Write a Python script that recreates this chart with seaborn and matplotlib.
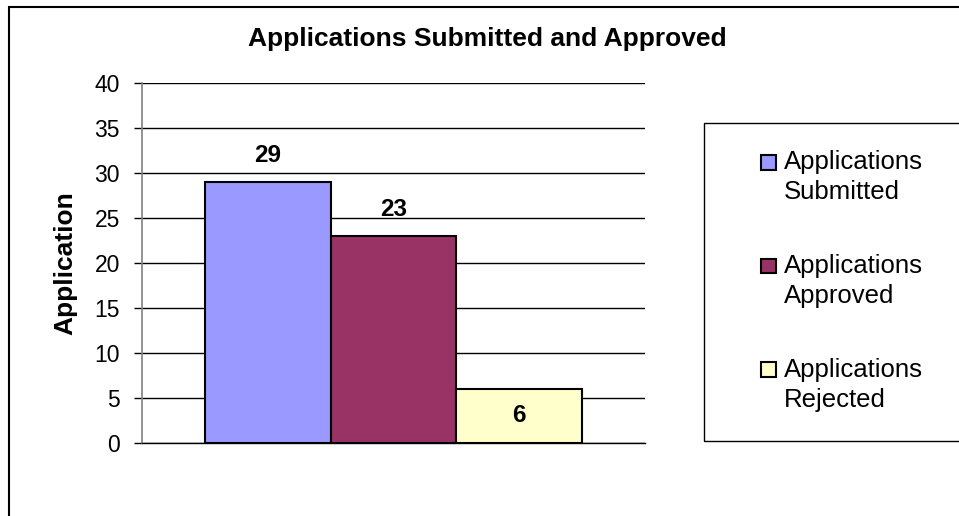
import pandas as pd
import matplotlib
matplotlib.use("Agg")
import matplotlib.pyplot as plt
import seaborn as sns
from matplotlib.patches import Rectangle
from matplotlib.legend_handler import HandlerPatch

# chart data
series = ["Applications\nSubmitted", "Applications\nApproved", "Applications\nRejected"]
counts = [29, 23, 6]
colors = ["#9999FF", "#993366", "#FFFFCC"]
y_ticks = [0, 5, 10, 15, 20, 25, 30, 35, 40]
title = "Applications Submitted and Approved"
y_label = "Application"


def top_square(legend, orig_handle, xdescent, ydescent, width, height, fontsize):
    # small square lined up with the first line of a two-line label
    s = 0.58 * fontsize
    return Rectangle((-xdescent, -ydescent + 0.62 * fontsize), s, s)


def main():
    sns.set_style("white")
    plt.rcParams["font.family"] = ["Liberation Sans", "DejaVu Sans"]
    plt.rcParams.update({"text.color": "black", "axes.labelcolor": "black",
                         "xtick.color": "black", "ytick.color": "black"})

    df = pd.DataFrame({"group": [""] * len(series), "series": series, "count": counts})

    fig = plt.figure(figsize=(9.59, 5.16), dpi=100)
    ax = fig.add_axes([142 / 959, 1 - 443 / 516, 503 / 959, 360 / 516])

    sns.barplot(data=df, x="group", y="count", hue="series", palette=colors,
                width=0.75, edgecolor="black", linewidth=1.5, saturation=1,
                ax=ax, zorder=3)
    handles, labels = ax.get_legend_handles_labels()
    if ax.get_legend() is not None:
        ax.get_legend().remove()

    ax.set_xlim(-0.5, 0.5)
    ax.set_ylim(0, 40)
    ax.set_yticks(y_ticks)
    ax.set_xticks([])
    ax.set_xlabel("")
    ax.yaxis.grid(True, color="black", linewidth=1)
    ax.set_axisbelow(True)
    ax.tick_params(axis="y", length=6, width=1, color="black", pad=10,
                   labelsize=16.5, labelcolor="black", left=True)
    for side in ["top", "right"]:
        ax.spines[side].set_visible(False)
    ax.spines["left"].set_color("#808080")
    ax.spines["left"].set_linewidth(1.2)
    ax.spines["bottom"].set_color("black")
    ax.spines["bottom"].set_linewidth(1)

    ax.set_ylabel(y_label, fontsize=19, fontweight="bold", color="black")
    ax.yaxis.set_label_coords(-0.129, 0.5)

    inside = [False, False, True]
    for cont, inner in zip(ax.containers, inside):
        if inner:
            ax.bar_label(cont, label_type="center", fontsize=17.5,
                         fontweight="bold", color="black")
        else:
            ax.bar_label(cont, padding=10.5, fontsize=17.5,
                         fontweight="bold", color="black")

    fig.text(0.508, 1 - 27 / 516, title, ha="center", va="top",
             fontsize=19, fontweight="bold", color="black")

    # outer chart border and legend box (both run off the right edge)
    fig.patches.append(Rectangle((9 / 959, -0.2), 1.2, 1.2 - 7 / 516,
                                 transform=fig.transFigure, fill=False,
                                 edgecolor="black", linewidth=1.5))
    fig.patches.append(Rectangle((704 / 959, 1 - 441 / 516), 0.5, 318 / 516,
                                 transform=fig.transFigure, fill=False,
                                 edgecolor="black", linewidth=1))

    leg = fig.legend(handles, labels, loc="center left",
                     bbox_to_anchor=(748 / 959, 1 - 281 / 516), frameon=False,
                     fontsize=18.5, handlelength=0.58, handleheight=0.58,
                     handletextpad=0.3, labelspacing=1.95, borderpad=0,
                     handler_map={h: HandlerPatch(patch_func=top_square) for h in handles})
    for t in leg.get_texts():
        t.set_linespacing(1.3)
        t.set_color("black")

    fig.savefig("out.png", dpi=100)
    plt.close(fig)


if __name__ == "__main__":
    main()
